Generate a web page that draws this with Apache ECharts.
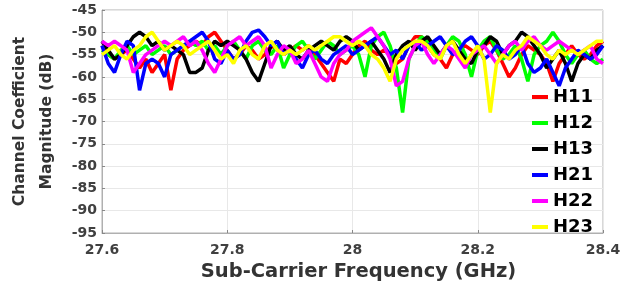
<!DOCTYPE html>
<html style="height: 100%">
<head>
  <meta charset="utf-8">
</head>
<body style="height: 100%; margin: 0; background: #fff">
  <div id="container" style="width: 641px; height: 283px"></div>

  <script type="text/javascript" src="https://fastly.jsdelivr.net/npm/echarts@6/dist/echarts.min.js"></script>

  <script type="text/javascript">
    // sub-carrier frequencies (GHz)
    var freq = [
      27.60, 27.61, 27.62, 27.63, 27.64, 27.65, 27.66, 27.67, 27.68, 27.69,
      27.70, 27.71, 27.72, 27.73, 27.74, 27.75, 27.76, 27.77, 27.78, 27.79,
      27.80, 27.81, 27.82, 27.83, 27.84, 27.85, 27.86, 27.87, 27.88, 27.89,
      27.90, 27.91, 27.92, 27.93, 27.94, 27.95, 27.96, 27.97, 27.98, 27.99,
      28.00, 28.01, 28.02, 28.03, 28.04, 28.05, 28.06, 28.07, 28.08, 28.09,
      28.10, 28.11, 28.12, 28.13, 28.14, 28.15, 28.16, 28.17, 28.18, 28.19,
      28.20, 28.21, 28.22, 28.23, 28.24, 28.25, 28.26, 28.27, 28.28, 28.29,
      28.30, 28.31, 28.32, 28.33, 28.34, 28.35, 28.36, 28.37, 28.38, 28.39,
      28.40
    ];

    var h11 = [
      -53, -55, -56, -55, -54, -56, -58, -56, -59, -57,
      -55, -63, -56, -54, -53, -52, -53, -51, -50, -52,
      -54, -56, -55, -53, -54, -56, -55, -53, -54, -55,
      -54, -53, -54, -53, -55, -57, -59, -61, -56, -57,
      -55, -53, -52, -54, -55, -54, -55, -57, -56, -53,
      -51, -51, -53, -55, -56, -58, -55, -54, -53, -54,
      -55, -53, -52, -54, -57, -60, -58, -55, -53, -54,
      -55, -57, -61, -57, -55, -53, -55, -56, -55, -53,
      -52
    ];
    var h12 = [
      -54, -55, -56, -54, -53, -55, -54, -53, -55, -54,
      -53, -55, -54, -53, -52, -53, -52, -54, -53, -55,
      -53, -52, -54, -56, -53, -52, -54, -55, -53, -58,
      -55, -53, -52, -54, -56, -54, -52, -53, -55, -54,
      -53, -55, -60, -53, -51, -50, -53, -58, -68, -56,
      -53, -51, -52, -54, -56, -53, -51, -52, -55, -60,
      -54, -52, -51, -54, -56, -55, -53, -56, -61, -55,
      -53, -52, -50, -52, -55, -57, -55, -54, -56, -57,
      -56
    ];
    var h13 = [
      -52, -54, -56, -55, -53, -51, -50, -51, -53, -52,
      -54, -53, -54, -55, -59, -59, -58, -54, -52, -53,
      -52, -53, -54, -56, -59, -61, -57, -53, -52, -54,
      -53, -55, -56, -54, -53, -52, -53, -54, -52, -51,
      -52, -54, -53, -52, -54, -56, -59, -55, -53, -52,
      -54, -52, -51, -53, -55, -53, -52, -54, -56, -57,
      -54, -53, -51, -52, -55, -53, -52, -50, -51, -53,
      -55, -58, -56, -54, -57, -61, -57, -55, -56, -54,
      -53
    ];
    var h21 = [
      -53, -57, -59, -55, -52, -53, -63, -57, -56, -57,
      -60, -55, -54, -53, -52, -51, -50, -52, -56, -57,
      -54, -56, -55, -52, -50, -49.5, -51, -53, -52, -55,
      -54, -56, -58, -55, -54, -56, -57, -55, -54, -53,
      -55, -54, -53, -52, -51, -53, -55, -54, -56, -53,
      -52, -54, -53, -52, -51, -53, -55, -54, -52, -51,
      -53, -56, -55, -53, -54, -56, -55, -53, -57, -59,
      -58, -56, -59, -62, -58, -56, -54, -55, -56, -55,
      -53
    ];
    var h22 = [
      -52, -53, -52, -53, -54, -59, -57, -55, -54, -53,
      -52, -53, -52, -51, -53, -52, -54, -57, -59, -56,
      -53, -52, -51, -53, -52, -51, -53, -58, -55, -53,
      -54, -57, -56, -54, -57, -60, -61, -57, -55, -54,
      -52, -51, -50, -49, -51, -53, -56, -62, -61, -56,
      -53, -52, -55, -57, -55, -53, -54, -56, -58, -55,
      -54, -53, -55, -57, -55, -53, -52, -54, -52, -51,
      -53, -54, -53, -52, -53, -54, -55, -54, -53, -56,
      -57
    ];
    var h23 = [
      -55, -54, -53, -55, -56, -54, -53, -51, -50, -52,
      -54, -53, -52, -53, -55, -54, -53, -52, -54, -56,
      -55, -57, -54, -53, -55, -56, -53, -52, -54, -55,
      -54, -55, -54, -53, -54, -53, -52, -51, -51, -52,
      -53, -52, -53, -55, -56, -58, -61, -56, -54, -53,
      -52, -52, -53, -55, -56, -53, -52, -55, -57, -55,
      -53, -56, -68, -57, -55, -56, -54, -53, -51, -52,
      -53, -55, -56, -54, -55, -54, -55, -54, -53, -52,
      -52
    ];

    var names = ['H11', 'H12', 'H13', 'H21', 'H22', 'H23'];
    var values = [h11, h12, h13, h21, h22, h23];
    var colors = ['#ff0000', '#00ff00', '#000000', '#0000ff', '#ff00ff', '#ffff00'];

    var dom = document.getElementById('container');
    var myChart = echarts.init(dom, null, { renderer: 'canvas' });

    var series = names.map(function (name, k) {
      return {
        name: name,
        type: 'line',
        showSymbol: false,
        symbol: 'none',
        lineStyle: { width: 3.5, color: colors[k] },
        itemStyle: { color: colors[k] },
        data: freq.map(function (f, i) { return [f, values[k][i]]; })
      };
    });

    var font = 'DejaVu Sans, Arial, sans-serif';

    var option = {
      animation: false,
      textStyle: { fontFamily: font },
      grid: {
        left: 102, right: 38, top: 10, bottom: 50,
        outerBoundsMode: 'none',
        show: true, borderColor: '#b0b0b0', borderWidth: 1
      },
      legend: {
        orient: 'vertical',
        left: 527,
        top: 83,
        icon: 'rect',
        itemWidth: 16,
        itemHeight: 4,
        itemGap: 8,
        textStyle: { fontFamily: font, fontSize: 18, fontWeight: 'bold', color: '#000', lineHeight: 18 },
        data: names
      },
      xAxis: {
        type: 'value',
        min: 27.6,
        max: 28.4,
        interval: 0.2,
        name: 'Sub-Carrier Frequency (GHz)',
        nameLocation: 'middle',
        nameGap: 25,
        nameTextStyle: { fontFamily: font, fontSize: 19.5, fontWeight: 'bold', color: '#333', padding: [0, 0, 0, 12] },
        axisLine: { lineStyle: { color: '#b0b0b0' } },
        axisTick: { inside: true, length: 3, lineStyle: { color: '#888' } },
        axisLabel: { fontFamily: font, fontSize: 14, fontWeight: 'bold', color: '#404040', margin: 10,
          formatter: function (v) { return String(Math.round(v * 10) / 10); } },
        splitLine: { show: true, lineStyle: { color: '#e8e8e8' } }
      },
      yAxis: {
        type: 'value',
        min: -95,
        max: -45,
        interval: 5,
        name: 'Channel Coefficient\nMagnitude (dB)',
        nameLocation: 'middle',
        nameGap: 34,
        nameTextStyle: { fontFamily: font, fontSize: 15.5, fontWeight: 'bold', color: '#333', lineHeight: 27 },
        axisLine: { show: true, lineStyle: { color: '#b0b0b0' } },
        axisTick: { show: true, inside: true, length: 3, lineStyle: { color: '#888' } },
        axisLabel: { fontFamily: font, fontSize: 14, fontWeight: 'bold', color: '#404040', margin: 5 },
        splitLine: { show: true, lineStyle: { color: '#e8e8e8' } }
      },
      series: series
    };

    myChart.setOption(option);
    window.addEventListener('resize', myChart.resize);
  </script>
</body>
</html>
